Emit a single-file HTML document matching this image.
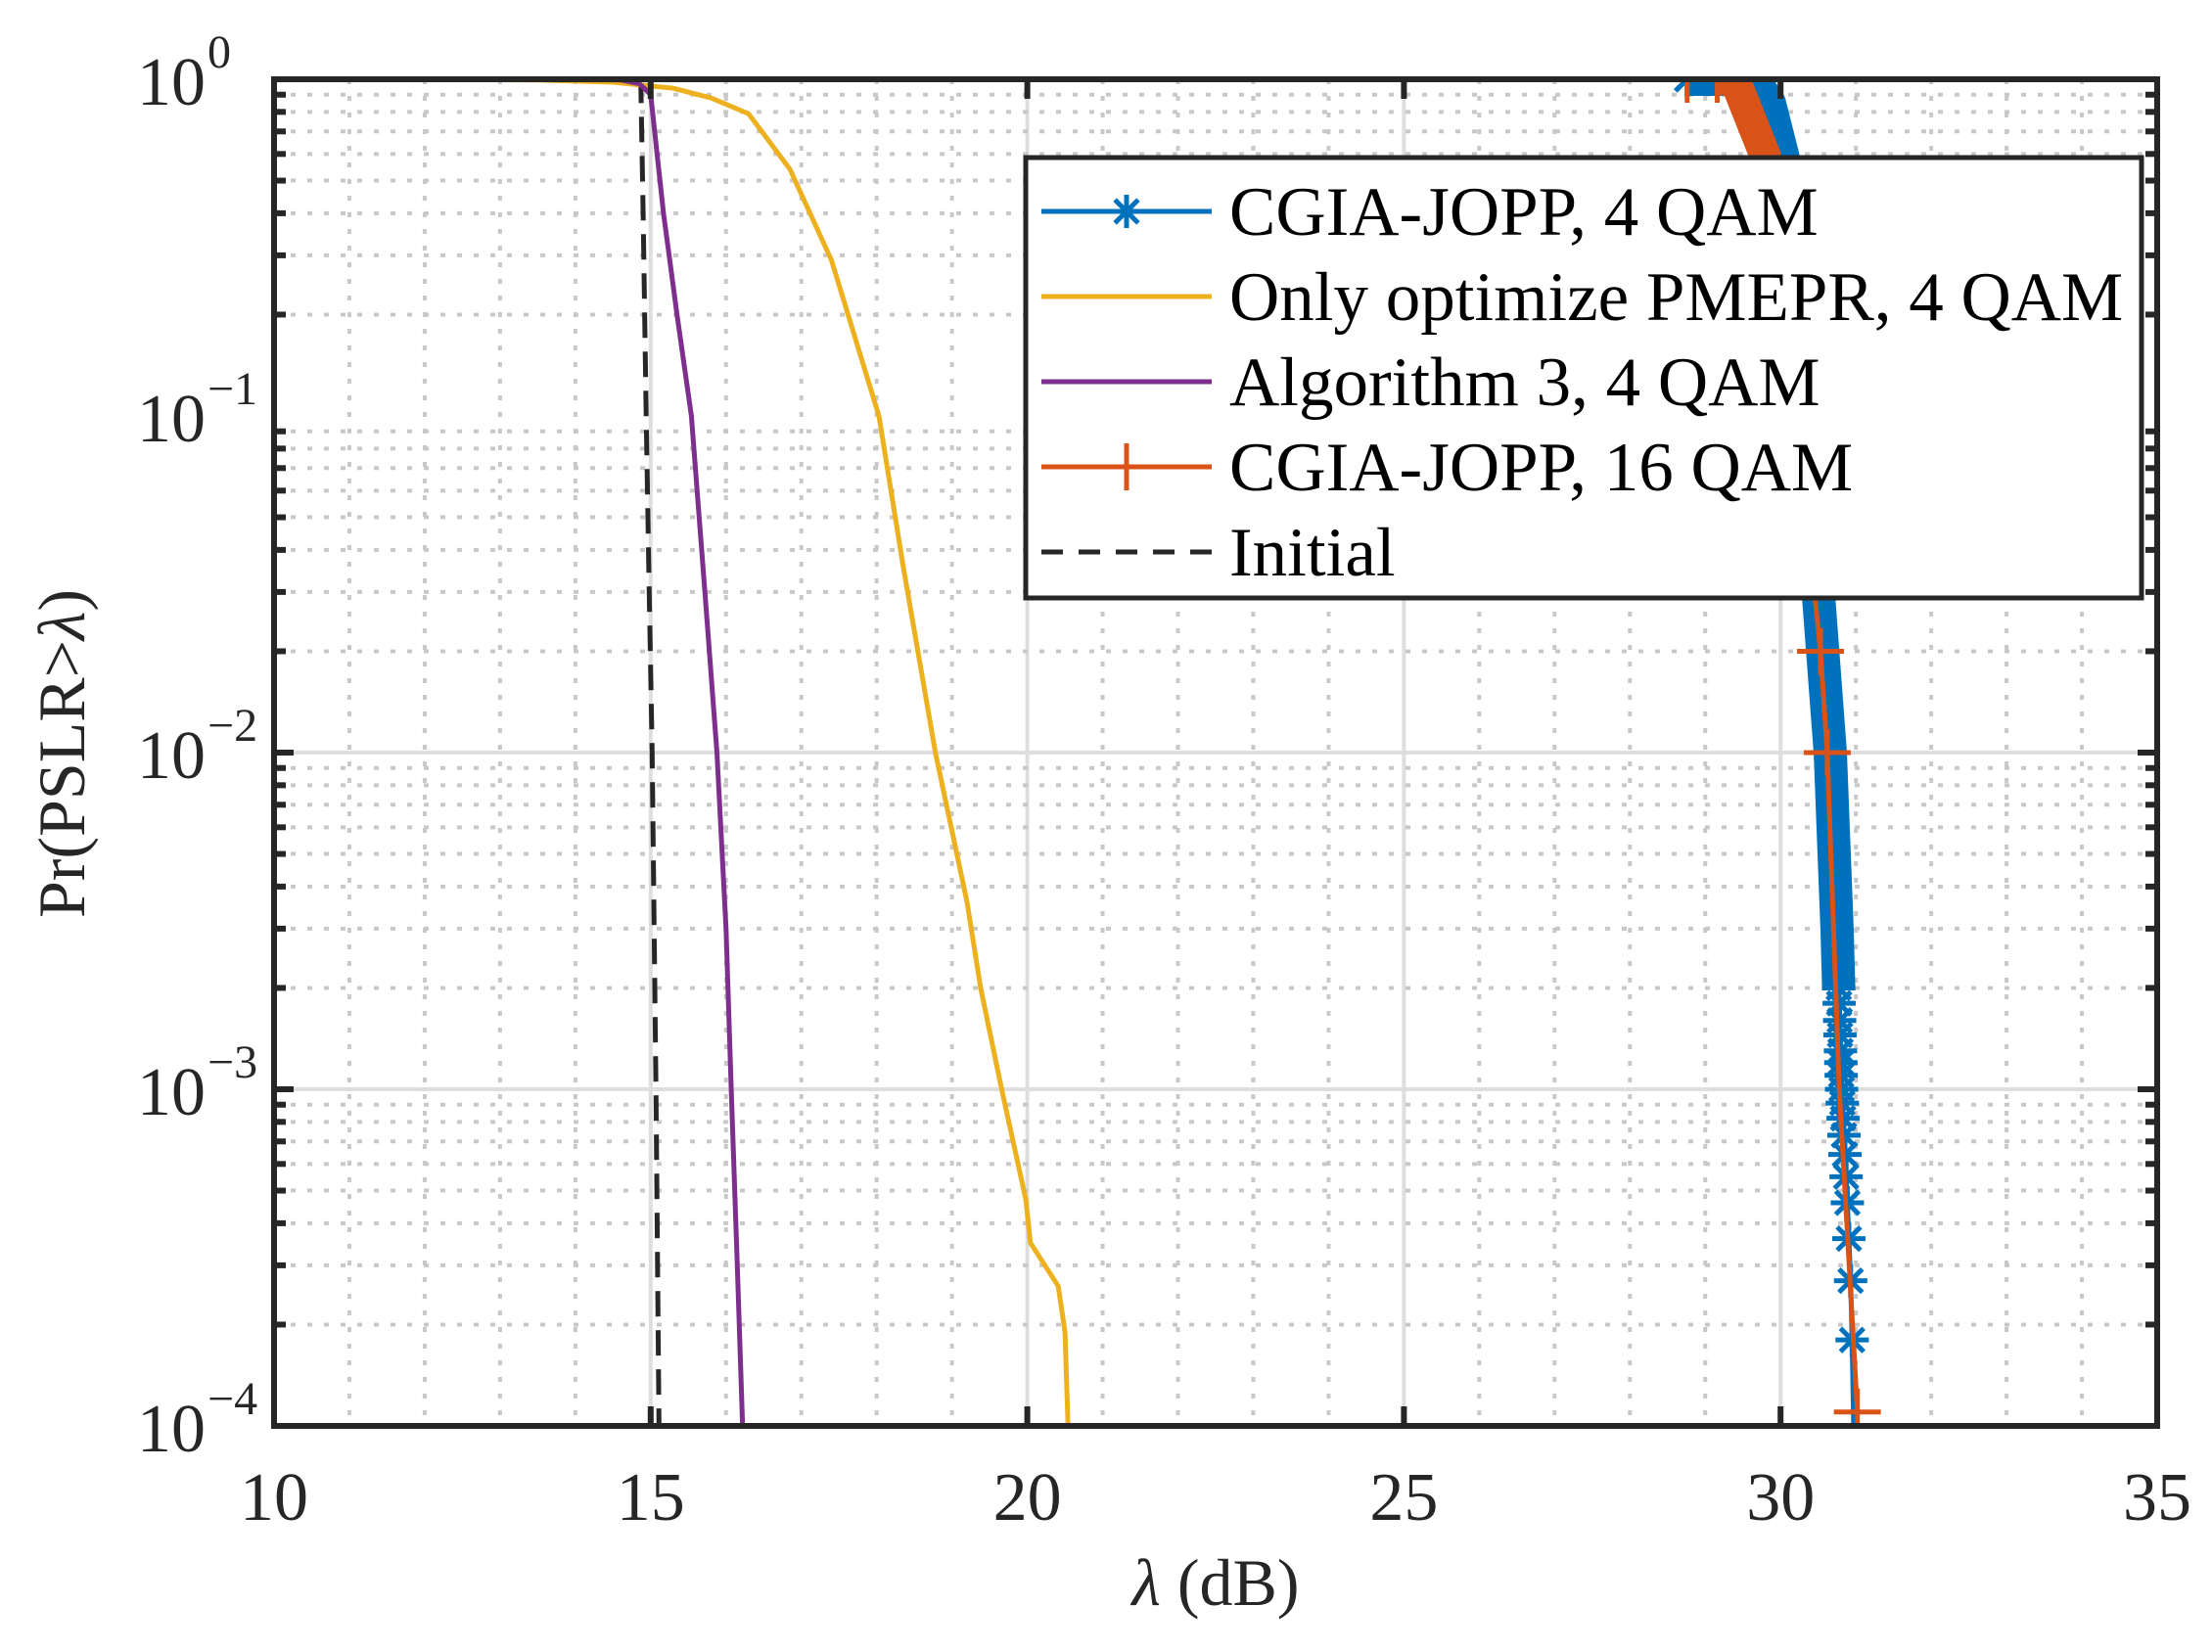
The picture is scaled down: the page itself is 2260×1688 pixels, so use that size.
<!DOCTYPE html>
<html><head><meta charset="utf-8">
<style>
html,body{margin:0;padding:0;background:#fff;}
svg{display:block;font-family:"Liberation Serif",serif;}
</style></head>
<body>
<svg id="chart" width="2260" height="1688" viewBox="0 0 2260 1688" xmlns="http://www.w3.org/2000/svg">
<defs><clipPath id="plotclip"><rect x="280" y="81" width="1924" height="1376"/></clipPath></defs>
<g id="grid"></g>
<g id="series" clip-path="url(#plotclip)"></g>
<g id="axes"></g>
<g id="legend"></g>
</svg>
<script>
// ---- data ----
const xTicks = [10, 15, 20, 25, 30, 35];
const yDecades = [0, -1, -2, -3, -4];
const initialX = [14.8, 14.87, 14.9, 14.94, 14.98, 15.02, 15.07, 15.11];
const initialP = [1, 0.95, 0.4, 0.1, 0.03, 0.01, 0.001, 0.0001];
const algX = [14.0, 14.6, 14.85, 15.0, 15.17, 15.35, 15.54, 15.72, 15.88, 16.0, 16.07, 16.15, 16.22];
const algP = [1, 0.995, 0.97, 0.9, 0.4, 0.2, 0.1, 0.03, 0.01, 0.003, 0.001, 0.0003, 0.0001];
const pmeprX = [11.8, 13.5, 14.5, 15.3, 15.8, 16.3, 16.85, 17.4, 18.03, 18.35, 18.78, 19.2, 19.38, 19.66, 19.98, 20.04, 20.41, 20.5, 20.54];
const pmeprP = [1, 0.995, 0.98, 0.94, 0.88, 0.79, 0.54, 0.29, 0.1, 0.036, 0.01, 0.0036, 0.002, 0.001, 0.00047, 0.00035, 0.00026, 0.00019, 0.0001];
const cgia4X = [28.76, 29.12, 29.64, 29.85, 30.03, 30.12, 30.3, 30.5, 30.66, 30.75, 30.81, 30.88, 30.93, 30.95, 30.97];
const cgia4P = [1, 1, 1, 0.85, 0.59, 0.3, 0.1, 0.03, 0.01, 0.003, 0.001, 0.0005, 0.00027, 0.00018, 0.0001];
const cgia4MarkP = [1, 0.002, 0.0018, 0.0016, 0.00145, 0.0013, 0.0012, 0.0011, 0.001, 0.00091, 0.00082, 0.00073, 0.00064, 0.00055, 0.00046, 0.00036, 0.00027, 0.00018];
const cgia16X = [28.76, 29.16, 29.4, 29.8, 30.05, 30.3, 30.45, 30.53, 30.62, 30.78, 31.02];
const cgia16P = [1, 1, 0.99, 0.59, 0.25, 0.08, 0.03, 0.02, 0.01, 0.001, 0.00011];
const cgia16MarkIdx = [0, 1, 7, 8, 10];
const legendLabels = ["CGIA-JOPP, 4 QAM", "Only optimize PMEPR, 4 QAM", "Algorithm 3, 4 QAM", "CGIA-JOPP, 16 QAM", "Initial"];

// ---- scales ----
const L = 280, R = 2204, T = 81, B = 1457;
const sx = v => L + (v - 10) / 25 * (R - L);
const sy = p => T + (-Math.log10(p)) / 4 * (B - T);
const NS = "http://www.w3.org/2000/svg";
function mk(tag, attrs, parent) {
  const e = document.createElementNS(NS, tag);
  for (const k in attrs) e.setAttribute(k, attrs[k]);
  parent.appendChild(e);
  return e;
}
const grid = document.getElementById('grid');
const axes = document.getElementById('axes');
const series = document.getElementById('series');
const legend = document.getElementById('legend');

// grid
for (let v = 10; v <= 35; v++) {
  const major = v % 5 === 0;
  if (v === 10 || v === 35) continue;
  const g = mk('line', {x1: sx(v), x2: sx(v), y1: T, y2: B, stroke: major ? '#dedede' : '#c8c8c8', 'stroke-width': 4, 'stroke-dasharray': major ? '' : '5 12'}, grid);
  
  
}
for (let d = 0; d > -4; d--) {
  for (let m = 1; m <= 9; m++) {
    const p = m * Math.pow(10, d - 1);
    const y = sy(p);
    const major = m === 1;
    if (major && d === 0) continue;
    const g = mk('line', {x1: L, x2: R, y1: y, y2: y, stroke: major ? '#dedede' : '#c8c8c8', 'stroke-width': 4, 'stroke-dasharray': major ? '' : '5 12'}, grid);
    
    
    const len = major ? 20 : 12;
    const t1 = mk('line', {x1: L, x2: L + len, y1: y, y2: y, stroke: '#262626', 'stroke-width': 6}, axes);
    
    
    const t2 = mk('line', {x1: R, x2: R - len, y1: y, y2: y, stroke: '#262626', 'stroke-width': 6}, axes);
    
    
  }
}
// series helpers
function pts(xs, ps) { return xs.map((x, i) => sx(x).toFixed(1) + ',' + sy(ps[i]).toFixed(1)).join(' '); }
function interpX(xs, ps, p) {
  const lp = Math.log10(p);
  for (let i = 0; i < ps.length - 1; i++) {
    const a = Math.log10(ps[i]), b = Math.log10(ps[i + 1]);
    if (lp <= a && lp >= b) { const t = a === b ? 0 : (lp - a) / (b - a); return xs[i] + t * (xs[i + 1] - xs[i]); }
  }
  return xs[xs.length - 1];
}
function star(cx, cy, s, col, parent) {
  const g = mk('g', {stroke: col, 'stroke-width': 5, 'stroke-linecap': 'butt'}, parent);
  
  
  mk('line', {x1: cx - s, x2: cx + s, y1: cy, y2: cy}, g);
  mk('line', {x1: cx, x2: cx, y1: cy - s, y2: cy + s}, g);
  mk('line', {x1: cx - s * .7, x2: cx + s * .7, y1: cy - s * .7, y2: cy + s * .7}, g);
  mk('line', {x1: cx - s * .7, x2: cx + s * .7, y1: cy + s * .7, y2: cy - s * .7}, g);
}
function plus(cx, cy, s, col, parent) {
  const g = mk('g', {stroke: col, 'stroke-width': 5}, parent);
  
  
  mk('line', {x1: cx - s, x2: cx + s, y1: cy, y2: cy}, g);
  mk('line', {x1: cx, x2: cx, y1: cy - s, y2: cy + s}, g);
}
// initial
const ini = mk('polyline', {points: pts(initialX, initialP), fill: 'none', stroke: '#262626', 'stroke-width': 5, 'stroke-dasharray': '26 14'}, series);


// pmepr
const pm = mk('polyline', {points: pts(pmeprX, pmeprP), fill: 'none', stroke: '#EDB120', 'stroke-width': 5, 'stroke-linejoin': 'round'}, series);


// algorithm 3
const al = mk('polyline', {points: pts(algX, algP), fill: 'none', stroke: '#7E2F8E', 'stroke-width': 5, 'stroke-linejoin': 'round'}, series);


// cgia 4qam (dense markers form a band)
const bandClip = mk('clipPath', {id: 'bandclip'}, document.querySelector('defs'));
mk('rect', {x: 0, y: 0, width: 2260, height: sy(0.002)}, bandClip);
const b4 = mk('polyline', {points: pts(cgia4X, cgia4P), fill: 'none', stroke: '#0072BD', 'stroke-width': 34, 'stroke-linejoin': 'round', 'clip-path': 'url(#bandclip)'}, series);


const l4 = mk('polyline', {points: pts(cgia4X, cgia4P), fill: 'none', stroke: '#0072BD', 'stroke-width': 5}, series);


star(sx(cgia4X[0]), sy(cgia4P[0]), 17, '#0072BD', series);
star(sx(cgia4X[1]), sy(cgia4P[1]), 17, '#0072BD', series);
cgia4MarkP.forEach(p => star(sx(interpX(cgia4X, cgia4P, p)), sy(p), 17, '#0072BD', series));
// cgia 16qam
const bandClip2 = mk('clipPath', {id: 'bandclip2'}, document.querySelector('defs'));
mk('rect', {x: 0, y: 0, width: 2260, height: sy(0.15)}, bandClip2);
const b16 = mk('polyline', {points: pts(cgia16X.slice(1), cgia16P.slice(1)), fill: 'none', stroke: '#D95319', 'stroke-width': 32, 'stroke-linejoin': 'round', 'clip-path': 'url(#bandclip2)'}, series);


const l16 = mk('polyline', {points: pts(cgia16X, cgia16P), fill: 'none', stroke: '#D95319', 'stroke-width': 5}, series);


cgia16MarkIdx.forEach(i => plus(sx(cgia16X[i]), sy(cgia16P[i]), 24, '#D95319', series));

// axes box
const box = mk('rect', {x: L, y: T, width: R - L, height: B - T, fill: 'none', stroke: '#262626', 'stroke-width': 6}, axes);


xTicks.forEach(v => {
  const x = sx(v);
  const t = mk('line', {x1: x, x2: x, y1: B, y2: B - 20, stroke: '#262626', 'stroke-width': 6}, axes);
  
  
  const t2 = mk('line', {x1: x, x2: x, y1: T, y2: T + 20, stroke: '#262626', 'stroke-width': 6}, axes);
  
  
  const lab = mk('text', {x: x, y: 1553, 'text-anchor': 'middle', 'font-size': 70, fill: '#262626'}, axes);
  lab.textContent = String(v);
  
  
});
yDecades.forEach(d => {
  const y = sy(Math.pow(10, d));
  const lab = mk('text', {x: 210, y: y + 26, 'text-anchor': 'end', 'font-size': 70, fill: '#262626'}, axes);
  lab.textContent = '10';
  
  
  const sup = mk('text', {x: 212, y: y - 12, 'text-anchor': 'start', 'font-size': 48, fill: '#262626'}, axes);
  sup.textContent = d === 0 ? '0' : '\u2212' + (-d);
  
  
});
const xt = mk('text', {x: 1242, y: 1640, 'text-anchor': 'middle', 'font-size': 68, fill: '#262626'}, axes);
xt.innerHTML = '<tspan font-style="italic">\u03bb</tspan> (dB)';


const yt = mk('text', {x: 0, y: 0, 'text-anchor': 'middle', 'font-size': 68, fill: '#262626', transform: 'translate(86,770) rotate(-90)'}, axes);
yt.innerHTML = 'Pr(PSLR&gt;<tspan font-style="italic">\u03bb</tspan>)';



// legend
const lb = mk('rect', {x: 1048, y: 161, width: 1140, height: 450, fill: '#fff', stroke: '#262626', 'stroke-width': 5}, legend);


const cols = ['#0072BD', '#EDB120', '#7E2F8E', '#D95319', '#262626'];
legendLabels.forEach((txt, i) => {
  const y = 216 + i * 87;
  const g = mk('g', {}, legend);
  
  
  mk('line', {x1: 1064, x2: 1238, y1: y, y2: y, stroke: cols[i], 'stroke-width': 5, 'stroke-dasharray': i === 4 ? '22 16' : ''}, g);
  if (i === 0) star(1151, y, 17, cols[0], g);
  if (i === 3) plus(1151, y, 24, cols[3], g);
  const t = mk('text', {x: 1256, y: y + 24, 'font-size': 71, fill: '#000'}, g);
  t.textContent = txt;
  
  
});
</script>
</body></html>
